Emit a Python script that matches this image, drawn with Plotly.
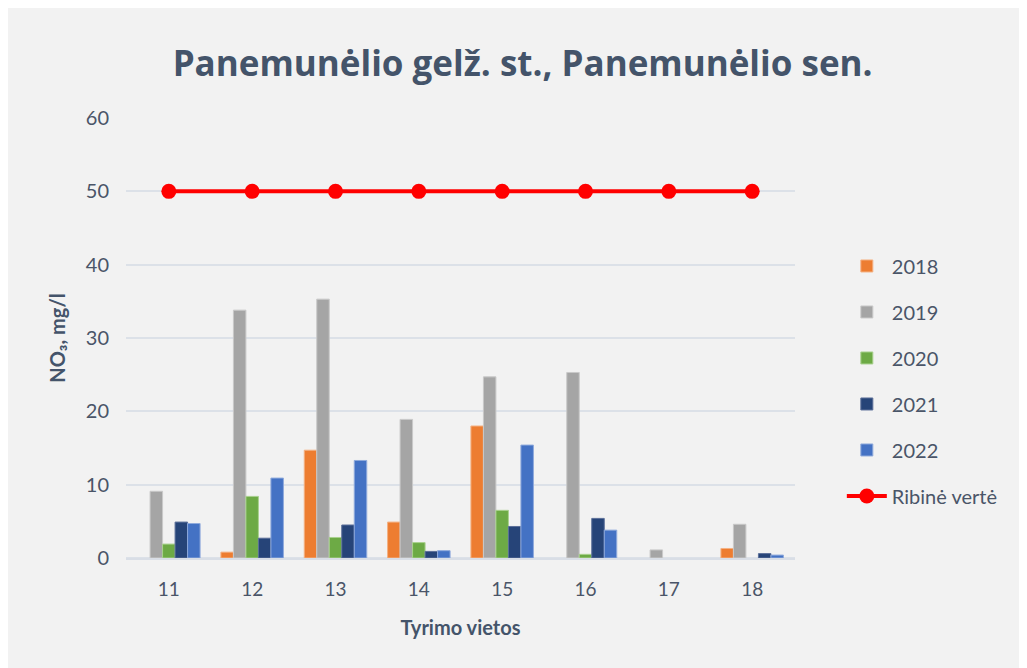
import plotly.graph_objects as go

categories = ["11", "12", "13", "14", "15", "16", "17", "18"]
years = ["2018", "2019", "2020", "2021", "2022"]
v2018 = [None, 0.8, 14.7, 4.9, 18.0, None, None, 1.3]
v2019 = [9.1, 33.8, 35.3, 18.9, 24.7, 25.3, 1.1, 4.6]
v2020 = [1.9, 8.4, 2.8, 2.1, 6.5, 0.5, None, None]
v2021 = [4.9, 2.7, 4.5, 0.9, 4.3, 5.4, None, 0.6]
v2022 = [4.7, 10.9, 13.3, 1.0, 15.4, 3.8, None, 0.4]
limit_values = [50, 50, 50, 50, 50, 50, 50, 50]

series = [v2018, v2019, v2020, v2021, v2022]
colors = ["#ED7D31", "#A5A5A5", "#6DAA45", "#264478", "#4472C4"]
outlines = ["#F4B183", "#C9C9C9", "#A9D18E", "#5B6F99", "#8FAADC"]

text_color = "#4A5568"
font_family = "Lato, 'Open Sans', sans-serif"

fig = go.Figure()
for name, vals, c, oc in zip(years, series, colors, outlines):
    fig.add_trace(go.Bar(
        x=categories, y=vals, name=name,
        marker=dict(color=c, line=dict(color=oc, width=1)),
        legendgroup=name,
    ))

fig.add_trace(go.Scatter(
    x=categories, y=limit_values, name="Ribinė vertė",
    mode="lines+markers",
    line=dict(color="#FF0000", width=4),
    marker=dict(color="#FF0000", size=15),
    legendgroup="lim",
))

fig.update_layout(
    width=1019, height=660,
    paper_bgcolor="#F2F2F2", plot_bgcolor="#F2F2F2",
    margin=dict(l=118, r=232, t=110, b=110),
    barmode="group", bargap=0.25, bargroupgap=0,
    font=dict(family=font_family, color=text_color, size=18),
    title=dict(
        text="<b>Panemunėlio gelž. st., Panemunėlio sen.</b>",
        x=0.505, xanchor="center", y=0.915, yanchor="middle",
        font=dict(size=35, color="#44546A", family="'Open Sans', sans-serif"),
    ),
    legend=dict(
        x=1.07, y=0.708, xanchor="left", yanchor="top",
        bgcolor="rgba(0,0,0,0)", tracegroupgap=17,
        font=dict(size=20, color=text_color),
        itemwidth=40,
    ),
    showlegend=True,
)

fig.update_xaxes(
    type="category", showgrid=False, showline=True,
    linecolor="#D9DEE6", linewidth=2,
    ticks="", ticklabelstandoff=13,
    tickfont=dict(size=19, color=text_color),
    title=dict(text="<b>Tyrimo vietos</b>", font=dict(size=20, color="#44546A"), standoff=22),
)
fig.update_yaxes(
    range=[0, 60], dtick=10, showgrid=True,
    gridcolor="#DCE1E8", gridwidth=2,
    zeroline=True, zerolinecolor="#DCE1E8", zerolinewidth=2,
    ticks="", ticklabelstandoff=16,
    tickfont=dict(size=20, color=text_color),
    title=dict(text="<b>NO₃, mg/l</b>", font=dict(size=20, color="#44546A"), standoff=14),
)

fig.write_html("out.html")
